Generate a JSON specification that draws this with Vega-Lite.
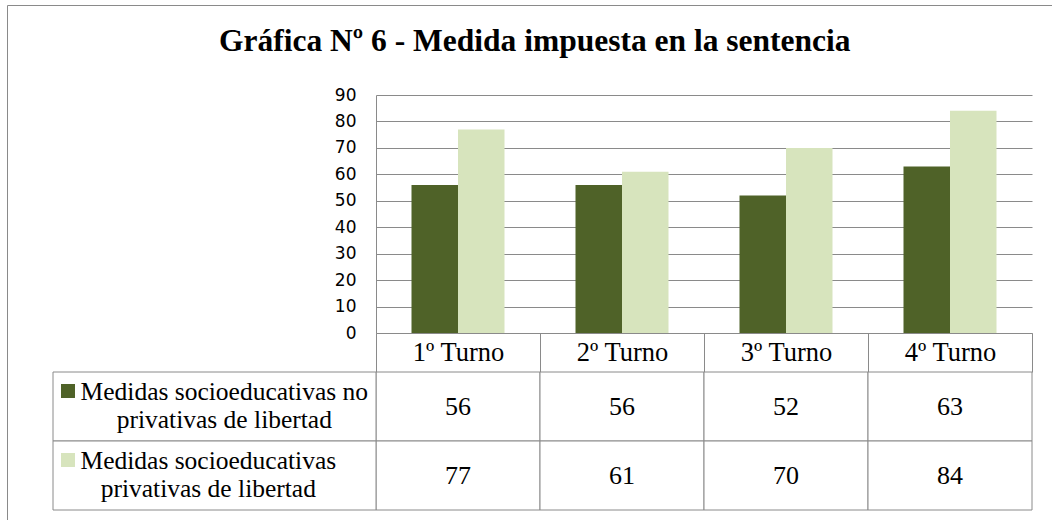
{
  "$schema": "https://vega.github.io/schema/vega-lite/v6.json",
  "width": 1060,
  "height": 530,
  "autosize": {"type": "none"},
  "padding": {"left": 7, "top": 5, "right": 0, "bottom": 0},
  "background": "white",
  "config": {
    "view": {"stroke": "#8a8a8a", "strokeWidth": 1},
    "font": "Liberation Serif"
  },
  "title": {
    "text": "Gráfica Nº 6 - Medida impuesta en la sentencia",
    "font": "Liberation Serif",
    "fontSize": 31.5,
    "fontWeight": "bold",
    "color": "#000000",
    "anchor": "start",
    "frame": "group",
    "baseline": "alphabetic",
    "offset": -77,
    "dx": 212
  },
  "data": {
    "values": [
      {"turno": "1º Turno", "serie": "Medidas socioeducativas no\nprivativas de libertad", "valor": 56},
      {"turno": "1º Turno", "serie": "Medidas socioeducativas\nprivativas de libertad", "valor": 77},
      {"turno": "2º Turno", "serie": "Medidas socioeducativas no\nprivativas de libertad", "valor": 56},
      {"turno": "2º Turno", "serie": "Medidas socioeducativas\nprivativas de libertad", "valor": 61},
      {"turno": "3º Turno", "serie": "Medidas socioeducativas no\nprivativas de libertad", "valor": 52},
      {"turno": "3º Turno", "serie": "Medidas socioeducativas\nprivativas de libertad", "valor": 70},
      {"turno": "4º Turno", "serie": "Medidas socioeducativas no\nprivativas de libertad", "valor": 63},
      {"turno": "4º Turno", "serie": "Medidas socioeducativas\nprivativas de libertad", "valor": 84}
    ]
  },
  "layer": [
    {
      "mark": {"type": "bar"},
      "encoding": {
        "x": {
          "field": "turno",
          "type": "nominal",
          "sort": null,
          "scale": {"domain": ["1º Turno", "2º Turno", "3º Turno", "4º Turno"], "range": [369, 1025], "paddingInner": 0, "paddingOuter": 0},
          "axis": {
            "orient": "bottom",
            "offset": -202,
            "title": null,
            "domain": true,
            "domainColor": "#8a8a8a",
            "domainWidth": 1,
            "ticks": true,
            "tickBand": "extent",
            "tickSize": 39,
            "tickColor": "#8a8a8a",
            "tickWidth": 1,
            "grid": false,
            "labelAngle": 0,
            "labelFont": "Liberation Serif",
            "labelFontSize": 26.5,
            "labelColor": "#000000",
            "labelBaseline": "alphabetic",
            "labelPadding": -11.3,
            "labelOverlap": false,
            "labelFlush": false,
            "labelBound": false
          }
        },
        "xOffset": {
          "field": "serie",
          "type": "nominal",
          "sort": null,
          "scale": {"domain": ["Medidas socioeducativas no\nprivativas de libertad", "Medidas socioeducativas\nprivativas de libertad"], "paddingInner": 0, "paddingOuter": 0.7634}
        },
        "y": {
          "field": "valor",
          "type": "quantitative",
          "scale": {"domain": [0, 90], "range": [328, 90], "nice": false},
          "axis": {
            "orient": "left",
            "offset": -369,
            "title": null,
            "values": [0, 10, 20, 30, 40, 50, 60, 70, 80, 90],
            "domain": true,
            "domainColor": "#8a8a8a",
            "domainWidth": 1,
            "ticks": false,
            "tickSize": 0,
            "grid": true,
            "gridColor": "#8a8a8a",
            "gridWidth": 1,
            "gridOpacity": 1,
            "labelFont": "DejaVu Sans",
            "labelFontSize": 17,
            "labelColor": "#000000",
            "labelPadding": 20,
            "labelOverlap": false,
            "labelBound": false,
            "labelFlush": false
          }
        },
        "color": {
          "field": "serie",
          "type": "nominal",
          "scale": {"domain": ["Medidas socioeducativas no\nprivativas de libertad", "Medidas socioeducativas\nprivativas de libertad"], "range": ["#4F6228", "#D7E4BD"]},
          "legend": null
        }
      }
    },
    {
      "layer": [
        {
          "mark": {"type": "rect", "fill": "white", "stroke": "#8a8a8a", "strokeWidth": 1},
          "encoding": {
            "x": {"field": "turno", "type": "nominal", "sort": null, "scale": {"domain": ["1º Turno", "2º Turno", "3º Turno", "4º Turno"], "range": [369, 1025], "paddingInner": 0, "paddingOuter": 0}, "axis": null},
            "y": {"field": "serie", "type": "nominal", "sort": null, "scale": {"domain": ["Medidas socioeducativas no\nprivativas de libertad", "Medidas socioeducativas\nprivativas de libertad"], "range": [367, 505], "paddingInner": 0, "paddingOuter": 0}, "axis": null}
          }
        },
        {
          "mark": {"type": "text", "font": "Liberation Serif", "fontSize": 26, "color": "#000000", "baseline": "middle", "align": "center"},
          "encoding": {
            "x": {"field": "turno", "type": "nominal", "sort": null, "axis": null},
            "y": {"field": "serie", "type": "nominal", "sort": null, "axis": null},
            "text": {"field": "valor", "type": "quantitative"}
          }
        }
      ]
    },
    {
      "transform": [{"filter": "datum.turno === '1º Turno'"}],
      "layer": [
        {
          "mark": {"type": "rect", "fill": "white", "stroke": "#8a8a8a", "strokeWidth": 1},
          "encoding": {
            "x": {"datum": "leyenda", "scale": {"type": "band", "domain": ["leyenda"], "range": [46, 369], "paddingInner": 0, "paddingOuter": 0}, "axis": null},
            "y": {"field": "serie", "type": "nominal", "sort": null, "scale": {"domain": ["Medidas socioeducativas no\nprivativas de libertad", "Medidas socioeducativas\nprivativas de libertad"], "range": [367, 505], "paddingInner": 0, "paddingOuter": 0}, "axis": null}
          }
        },
        {
          "mark": {"type": "point", "shape": "square", "filled": true, "size": 196, "opacity": 1, "strokeWidth": 0},
          "encoding": {
            "x": {"datum": "leyenda", "bandPosition": 0.0464, "axis": null},
            "y": {"field": "serie", "type": "nominal", "sort": null, "bandPosition": 0.275, "axis": null},
            "color": {"field": "serie", "type": "nominal", "legend": null}
          }
        },
        {
          "mark": {"type": "text", "font": "Liberation Serif", "fontSize": 25.5, "lineHeight": 28, "lineBreak": "\n", "color": "#000000", "baseline": "middle", "align": "center", "dx": {"expr": "indexof(datum.serie, ' no') > 0 ? 8 : -8"}},
          "encoding": {
            "x": {"datum": "leyenda", "bandPosition": 0.5056, "axis": null},
            "y": {"field": "serie", "type": "nominal", "sort": null, "bandPosition": 0.297, "axis": null},
            "text": {"field": "serie", "type": "nominal"}
          }
        }
      ]
    }
  ],
  "resolve": {
    "scale": {"x": "independent", "y": "independent"},
    "axis": {"x": "independent", "y": "independent"}
  }
}
